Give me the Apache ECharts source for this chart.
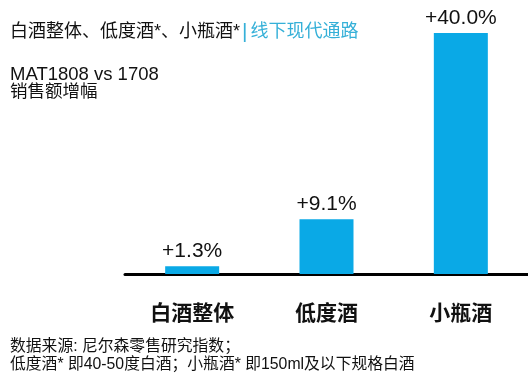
<!DOCTYPE html>
<html>
<head>
<meta charset="utf-8">
<script src="https://cdn.jsdelivr.net/npm/echarts@6/dist/echarts.min.js"></script>
<style>html,body{margin:0;padding:0;background:#fff;}#c{width:528px;height:384px;}</style>
</head>
<body>
<div id="c"></div>
<script>
const categories = ['白酒整体', '低度酒', '小瓶酒'];
const values = [1.3, 9.1, 40.0];
const valueLabels = ['+1.3%', '+9.1%', '+40.0%'];
const titleMain = '白酒整体、低度酒*、小瓶酒*';
const titleSub = '线下现代通路';
const subtitle1 = 'MAT1808 vs 1708';
const subtitle2 = '销售额增幅';
const note1 = '数据来源: 尼尔森零售研究指数；';
const note2 = '低度酒* 即40-50度白酒；小瓶酒* 即150ml及以下规格白酒';

const FF = '"Liberation Sans", Arial, "Noto Sans CJK SC", sans-serif';
const BAR = '#0aa9e6';
const CYAN = '#35b0d8';

const chart = echarts.init(document.getElementById('c'), null, {renderer: 'canvas'});
chart.setOption({
  animation: false,
  backgroundColor: '#fff',
  grid: {left: 125, right: 0, top: 33, bottom: 110, containLabel: false},
  xAxis: {
    type: 'category',
    data: categories,
    axisLine: {show: true, lineStyle: {color: '#000', width: 3}},
    axisTick: {show: false},
    axisLabel: {fontSize: 21, fontWeight: 'bold', color: '#111', margin: 30, fontFamily: FF}
  },
  yAxis: {
    type: 'value', min: 0, max: 40,
    show: false, splitLine: {show: false}
  },
  series: [{
    type: 'bar',
    data: values,
    barWidth: 54,
    itemStyle: {color: BAR},
    label: {
      show: true, position: 'top', distance: 4,
      fontSize: 21, color: '#111', fontFamily: FF,
      formatter: p => valueLabels[p.dataIndex]
    }
  }],
  graphic: [
    {type: 'text', left: 10, top: 22, style: {
      text: '{a|' + titleMain + '}{c||}{b|' + titleSub + '}',
      rich: {
        a: {fontSize: 18, fill: '#111', fontFamily: FF},
        c: {fontSize: 21, fill: CYAN, fontFamily: FF, padding: [0, 3, 0, 2]},
        b: {fontSize: 18, fill: CYAN, fontFamily: FF}
      }
    }},
    {type: 'text', left: 10, top: 66, style: {text: subtitle1, fontSize: 18.5, fill: '#111', fontFamily: FF}},
    {type: 'text', left: 10, top: 83, style: {text: subtitle2, fontSize: 17.5, fill: '#111', fontFamily: FF}},
    {type: 'text', left: 10, top: 339, style: {text: note1, fontSize: 15.8, fill: '#111', fontFamily: FF}},
    {type: 'text', left: 10, top: 357, style: {text: note2, fontSize: 15.8, fill: '#111', fontFamily: FF}}
  ]
});
</script>
</body>
</html>
